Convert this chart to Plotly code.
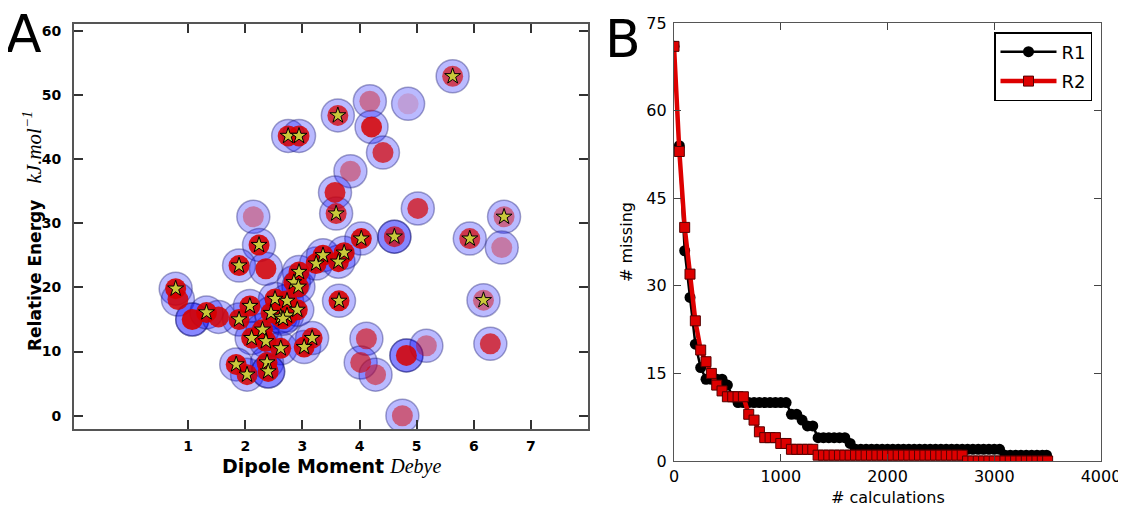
import plotly.graph_objects as go

# ---------------- Panel A data ----------------
dipole = [5.63, 3.62, 4.18, 4.85, 4.21, 4.41, 2.75, 2.94, 3.84, 3.57,
          3.59, 5.02, 2.14, 6.53, 5.93, 6.49, 4.61, 4.61, 4.03, 2.24,
          1.89, 2.36, 0.78, 0.82, 1.07, 1.07, 1.32, 1.53, 1.89, 2.08,
          2.11, 2.30, 2.36, 2.62, 1.84, 2.03, 2.38, 2.40, 2.40, 3.03,
          3.17, 2.52, 2.73, 2.45, 2.62, 2.73, 2.66, 2.91, 2.94, 2.85,
          2.93, 3.24, 3.36, 3.63, 3.73, 3.64, 6.17, 6.29, 4.12, 4.02,
          4.28, 4.82, 4.82, 5.17, 4.75]
energy = [52.9, 46.8, 49.0, 48.6, 45.0, 41.0, 43.6, 43.6, 38.1, 34.8,
          31.5, 32.3, 31.0, 31.0, 27.6, 26.2, 27.9, 27.9, 27.6, 26.6,
          23.4, 22.9, 19.8, 18.1, 15.0, 15.0, 16.1, 15.4, 15.0, 17.1,
          12.1, 13.4, 11.6, 10.5, 8.0, 6.4, 8.3, 6.9, 6.9, 10.7,
          12.1, 18.2, 17.9, 16.0, 15.4, 15.6, 15.1, 16.5, 22.4, 20.8,
          20.1, 23.7, 25.0, 24.0, 25.4, 17.9, 18.0, 11.2, 12.0, 8.3,
          6.4, 9.4, 9.4, 10.9, 0.0]
# weight of the red (inner) marker for each structure
red_weight = [0.65, 0.75, 0.40, 0.15, 0.85, 0.70, 0.85, 0.85, 0.40, 0.80,
              0.75, 0.70, 0.35, 0.45, 0.70, 0.35, 0.70, 0.00, 0.90, 0.90,
              0.90, 0.85, 0.90, 0.85, 0.90, 0.00, 0.90, 0.85, 0.90, 0.90,
              0.90, 0.90, 0.90, 0.90, 0.90, 0.85, 0.90, 0.90, 0.00, 0.90,
              0.85, 0.90, 0.90, 0.90, 0.90, 0.90, 0.90, 0.90, 0.90, 0.90,
              0.90, 0.90, 0.90, 0.90, 0.90, 0.90, 0.45, 0.70, 0.60, 0.60,
              0.50, 0.85, 0.00, 0.40, 0.50]
found = [1, 1, 0, 0, 0, 0, 1, 1, 0, 0,
         1, 0, 0, 1, 1, 0, 1, 0, 1, 1,
         1, 0, 1, 0, 0, 0, 1, 0, 1, 1,
         1, 1, 1, 1, 1, 1, 1, 1, 0, 1,
         1, 1, 1, 1, 1, 1, 1, 1, 1, 1,
         1, 1, 1, 1, 1, 1, 1, 0, 0, 0,
         0, 0, 0, 0, 0]

# ---------------- Panel B data ----------------
r1_calc = [0, 50, 100, 150, 200, 250, 300, 350, 400, 450,
           500, 550, 600, 650, 700, 750, 800, 850, 900, 950,
           1000, 1050, 1100, 1150, 1200, 1250, 1300, 1350, 1400, 1450,
           1500, 1550, 1600, 1650, 1700, 1750, 1800, 1850, 1900, 1950,
           2000, 2050, 2100, 2150, 2200, 2250, 2300, 2350, 2400, 2450,
           2500, 2550, 2600, 2650, 2700, 2750, 2800, 2850, 2900, 2950,
           3000, 3050, 3100, 3150, 3200, 3250, 3300, 3350, 3400, 3450,
           3490]
r1_missing = [71, 54, 36, 28, 20, 16, 14, 14, 14, 14,
              13, 11, 10, 10, 10, 10, 10, 10, 10, 10,
              10, 10, 8, 8, 7, 6, 6, 4, 4, 4,
              4, 4, 4, 3, 2, 2, 2, 2, 2, 2,
              2, 2, 2, 2, 2, 2, 2, 2, 2, 2,
              2, 2, 2, 2, 2, 2, 2, 2, 2, 2,
              2, 2, 1, 1, 1, 1, 1, 1, 1, 1,
              1]
r2_calc = [0, 50, 100, 150, 200, 250, 300, 350, 400, 450,
           500, 550, 600, 650, 700, 750, 800, 850, 900, 950,
           1000, 1050, 1100, 1150, 1200, 1250, 1300, 1350, 1400, 1450,
           1500, 1550, 1600, 1650, 1700, 1750, 1800, 1850, 1900, 1950,
           2000, 2050, 2100, 2150, 2200, 2250, 2300, 2350, 2400, 2450,
           2500, 2550, 2600, 2650, 2700, 2750, 2800, 2850, 2900, 2950,
           3000, 3050, 3100, 3150, 3200, 3250, 3300, 3350, 3400, 3450,
           3500]
r2_missing = [71, 53, 40, 32, 24, 19, 17, 15, 13, 12,
              11, 11, 11, 11, 8, 7, 5, 4, 4, 4,
              3, 3, 2, 2, 2, 2, 2, 1, 1, 1,
              1, 1, 1, 1, 1, 1, 1, 1, 1, 1,
              1, 1, 1, 1, 1, 1, 1, 1, 1, 1,
              1, 1, 1, 1, 1, 0, 0, 0, 0, 0,
              0, 0, 0, 0, 0, 0, 0, 0, 0, 0,
              0]

# page body has an 8px margin: build the figure to fit the visible window
OFF = 8
W, H = 1126 - OFF, 510 - OFF
FONT = "DejaVu Sans"
SERIF = "Liberation Serif"


def fx(p):
    return (p - OFF) / W


def fy(p):
    return 1 - (p - OFF) / H


fig = go.Figure()

# Panel A: blue halo, red core, star
fig.add_trace(go.Scatter(
    x=dipole, y=energy, mode="markers", xaxis="x", yaxis="y", showlegend=False,
    marker=dict(symbol="circle", size=33, color="rgba(0,0,255,0.27)",
                line=dict(color="rgba(20,20,110,0.38)", width=1.5))))
fig.add_trace(go.Scatter(
    x=dipole, y=energy, mode="markers", xaxis="x", yaxis="y", showlegend=False,
    marker=dict(symbol="circle", size=21, color="rgb(215,0,0)",
                opacity=red_weight, line=dict(width=0))))
sx = [d for d, f in zip(dipole, found) if f]
sy = [e for e, f in zip(energy, found) if f]
fig.add_trace(go.Scatter(
    x=sx, y=sy, mode="markers", xaxis="x", yaxis="y", showlegend=False,
    marker=dict(symbol="star", size=12, color="#c9c93a",
                line=dict(color="black", width=1))))

# Panel B
fig.add_trace(go.Scatter(
    x=r1_calc, y=r1_missing, mode="lines+markers", name="R1",
    xaxis="x2", yaxis="y2", legendgroup="r1",
    line=dict(color="black", width=2.5),
    marker=dict(symbol="circle", size=11, color="black")))
fig.add_trace(go.Scatter(
    x=r2_calc, y=r2_missing, mode="lines+markers", name="R2",
    xaxis="x2", yaxis="y2", legendgroup="r2",
    line=dict(color="#dd0000", width=4.5),
    marker=dict(symbol="square", size=10, color="#dd0000",
                line=dict(color="#550000", width=1))))

axis_common = dict(showgrid=False, zeroline=False, mirror="allticks",
                   ticks="inside", showline=True, automargin=False)

fig.update_layout(
    width=W, height=H, paper_bgcolor="white", plot_bgcolor="white",
    margin=dict(l=0, r=0, t=0, b=0, autoexpand=False),
    font=dict(family=FONT, color="black"),
    xaxis=dict(domain=[fx(74), fx(588)], range=[-1, 8],
               tickvals=[1, 2, 3, 4, 5, 6, 7], ticklen=9, tickwidth=1.5,
               linecolor="#555", linewidth=2, tickcolor="#333",
               tickfont=dict(family=FONT, size=14, weight="bold"),
               ticklabelstandoff=3, anchor="y", **axis_common),
    yaxis=dict(domain=[fy(429), fy(24)], range=[-2.07, 61.04],
               tickvals=[0, 10, 20, 30, 40, 50, 60], ticklen=9, tickwidth=1.5,
               linecolor="#555", linewidth=2, tickcolor="#333",
               tickfont=dict(family=FONT, size=14, weight="bold"),
               ticklabelstandoff=8, anchor="x", **axis_common),
    xaxis2=dict(domain=[fx(674), fx(1101)], range=[0, 4000],
                tickvals=[0, 1000, 2000, 3000, 4000], ticklen=7, tickwidth=1,
                linecolor="#555", linewidth=1.2, tickcolor="#444",
                tickfont=dict(family=FONT, size=16),
                ticklabelstandoff=1, anchor="y2", **axis_common),
    yaxis2=dict(domain=[fy(461), fy(23)], range=[0, 75],
                tickvals=[0, 15, 30, 45, 60, 75], ticklen=7, tickwidth=1,
                linecolor="#555", linewidth=1.2, tickcolor="#444",
                tickfont=dict(family=FONT, size=16),
                ticklabelstandoff=3, anchor="x2", **axis_common),
    legend=dict(x=fx(1092), y=fy(32), xanchor="right", yanchor="top",
                bgcolor="white", bordercolor="black", borderwidth=1.5,
                font=dict(family=FONT, size=18), itemwidth=56,
                traceorder="grouped", tracegroupgap=3),
    annotations=[
        dict(text="A", x=fx(4), y=fy(34), xref="paper", yref="paper",
             xanchor="left", yanchor="middle", showarrow=False,
             font=dict(family=FONT, size=52, color="black")),
        dict(text="B", x=fx(603), y=fy(39), xref="paper", yref="paper",
             xanchor="left", yanchor="middle", showarrow=False,
             font=dict(family=FONT, size=52, color="black")),
        dict(text="<b>Relative Energy</b>   "
                  f"<span style='font-family:{SERIF};font-size:21px'><i>kJ.mol<sup>−1</sup></i></span>",
             x=fx(32), y=fy(231), xref="paper", yref="paper",
             xanchor="center", yanchor="middle", textangle=-90, showarrow=False,
             font=dict(family=FONT, size=17, color="black")),
        dict(text="<b>Dipole Moment</b> "
                  f"<span style='font-family:{SERIF};font-size:20px'><i>Debye</i></span>",
             x=fx(331), y=fy(466), xref="paper", yref="paper",
             xanchor="center", yanchor="middle", showarrow=False,
             font=dict(family=FONT, size=19, color="black")),
        dict(text="# missing", x=fx(626), y=fy(242), xref="paper", yref="paper",
             xanchor="center", yanchor="middle", textangle=-90, showarrow=False,
             font=dict(family=FONT, size=16, color="black")),
        dict(text="# calculations", x=fx(888), y=fy(497), xref="paper",
             yref="paper", xanchor="center", yanchor="middle", showarrow=False,
             font=dict(family=FONT, size=16, color="black")),
    ],
)

fig.write_html("out.html")
